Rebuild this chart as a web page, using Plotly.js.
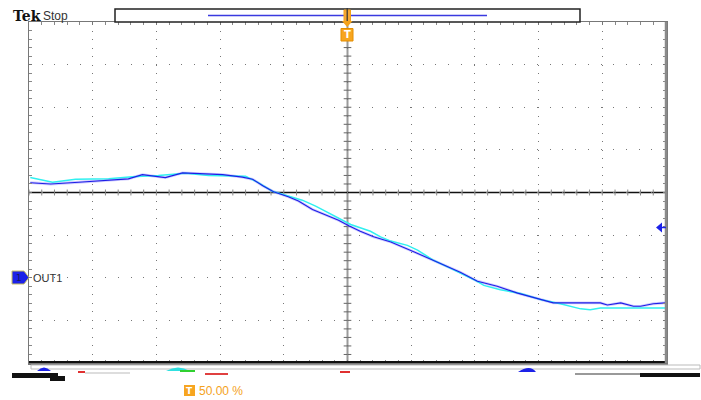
<!DOCTYPE html>
<html><head><meta charset="utf-8">
<script src="https://cdn.plot.ly/plotly-3.0.1.min.js"></script>
<style>html,body{margin:0;padding:0;background:#fff}#chart{width:701px;height:400px}</style>
</head><body><div id="chart"></div>
<script>
// time in divisions (-5..5), amplitude in divisions (-4..4)
const blueT = [-4.98,-4.66,-4.22,-3.80,-3.44,-3.22,-2.97,-2.86,-2.59,-2.34,-1.96,-1.65,-1.49,-1.33,-1.16,-0.93,-0.77,-0.55,-0.35,-0.14,0.02,0.20,0.41,0.68,1.04,1.41,1.77,2.04,2.35,2.67,3.03,3.23,3.97,4.08,4.29,4.49,4.60,4.80,4.99];
const blueV = [0.23,0.20,0.24,0.29,0.32,0.42,0.38,0.35,0.46,0.44,0.42,0.36,0.31,0.16,0.02,-0.10,-0.20,-0.40,-0.52,-0.65,-0.78,-0.91,-1.04,-1.16,-1.39,-1.64,-1.87,-2.08,-2.20,-2.36,-2.51,-2.59,-2.59,-2.64,-2.59,-2.67,-2.67,-2.61,-2.59];
const cyanT = [-4.98,-4.63,-4.27,-3.75,-3.38,-2.97,-2.54,-2.18,-1.60,-1.40,-1.18,-0.97,-0.71,-0.50,-0.19,0.02,0.05,0.36,0.52,0.68,0.94,1.10,1.35,1.66,1.98,2.14,2.40,2.72,3.03,3.34,3.66,3.81,3.97,4.99];
const cyanV = [0.35,0.24,0.31,0.32,0.37,0.40,0.45,0.40,0.38,0.23,0.03,-0.06,-0.18,-0.32,-0.56,-0.73,-0.75,-0.91,-1.04,-1.14,-1.24,-1.35,-1.59,-1.81,-2.04,-2.18,-2.28,-2.37,-2.51,-2.61,-2.73,-2.75,-2.71,-2.71];
const ch1Label = "OUT1";
const trigLabel = "50.00 %";

const L=29,R=666,T=22,B=363;
const px = x => (x-L)/(R-L);
const py = y => (B-y)/(B-T);

const traces = [
  {x:blueT,y:blueV,mode:'lines',line:{color:'rgba(140,130,255,0.4)',width:2.8},hoverinfo:'skip'},
  {x:cyanT,y:cyanV,mode:'lines',line:{color:'#30f0f0',width:1.5},hoverinfo:'skip'},
  {x:blueT,y:blueV,mode:'lines',line:{color:'#1e1ee6',width:1.1},hoverinfo:'skip'}
];

const shapes = [];
// center crosshair
shapes.push({type:'line',xref:'x',yref:'paper',x0:0,x1:0,y0:0,y1:1,line:{color:'#9a9a9a',width:2},layer:'below'});
shapes.push({type:'line',xref:'paper',yref:'y',x0:0,x1:1,y0:0,y1:0,line:{color:'#111',width:1.3},layer:'below'});
for(let i=-25;i<=25;i++){
  if(i===0) continue;
  shapes.push({type:'line',xref:'x',yref:'y',x0:i*0.2,x1:i*0.2,y0:-0.07,y1:0.07,line:{color:'#888',width:1},layer:'below'});
}
for(let i=-20;i<=20;i++){
  if(i===0) continue;
  shapes.push({type:'line',xref:'x',yref:'y',x0:-0.06,x1:0.06,y0:i*0.2,y1:i*0.2,line:{color:'#666',width:1},layer:'below'});
}
// bottom black border
shapes.push({type:'line',xref:'paper',yref:'paper',x0:px(29),x1:px(666),y0:py(362),y1:py(362),line:{color:'#111',width:2}});
// right thick grey border
shapes.push({type:'line',xref:'paper',yref:'paper',x0:px(666),x1:px(666),y0:py(363),y1:py(22),line:{color:'#8a8a8a',width:2.5}});
// top record-view box
shapes.push({type:'rect',xref:'paper',yref:'paper',x0:px(115),x1:px(580),y0:py(22),y1:py(9),line:{color:'#222',width:1.5},fillcolor:'#fff'});
shapes.push({type:'line',xref:'paper',yref:'paper',x0:px(208),x1:px(487),y0:py(15.5),y1:py(15.5),line:{color:'#3a3ae0',width:1.5}});
// trigger position marker
shapes.push({type:'rect',xref:'paper',yref:'paper',x0:px(344),x1:px(350.5),y0:py(22),y1:py(10),line:{color:'#f4a21c',width:1},fillcolor:'#f7a833'});
shapes.push({type:'line',xref:'paper',yref:'paper',x0:px(347.2),x1:px(347.2),y0:py(24),y1:py(8),line:{color:'#333',width:1.2}});
shapes.push({type:'path',xref:'paper',yref:'paper',path:`M ${px(342)} ${py(21)} L ${px(352.5)} ${py(21)} L ${px(347.2)} ${py(27)} Z`,line:{width:0},fillcolor:'#f4a21c'});
shapes.push({type:'rect',xref:'paper',yref:'paper',x0:px(341),x1:px(353),y0:py(41),y1:py(28.5),line:{color:'#e58e00',width:1},fillcolor:'#f7a520'});
// OUT1 ground marker
shapes.push({type:'path',xref:'paper',yref:'paper',path:`M ${px(12)} ${py(271)} L ${px(24)} ${py(271)} L ${px(29)} ${py(277.5)} L ${px(24)} ${py(284)} L ${px(12)} ${py(284)} Z`,line:{color:'#c8c060',width:1},fillcolor:'#1c22e8'});
// right-side arrow
shapes.push({type:'path',xref:'paper',yref:'paper',path:`M ${px(656)} ${py(227.5)} L ${px(662)} ${py(222.5)} L ${px(662)} ${py(232.5)} Z`,line:{width:0},fillcolor:'#1c22e8'});
shapes.push({type:'line',xref:'paper',yref:'paper',x0:px(660),x1:px(666),y0:py(227.5),y1:py(227.5),line:{color:'#1c22e8',width:1.5}});
// bottom status-bar remnants
shapes.push({type:'rect',xref:'paper',yref:'paper',x0:px(31),x1:px(700),y0:py(369),y1:py(365),line:{color:'#bbb',width:1},fillcolor:'rgba(0,0,0,0)'});
shapes.push({type:'rect',xref:'paper',yref:'paper',x0:px(12),x1:px(58),y0:py(378),y1:py(373),line:{width:0},fillcolor:'#111'});
shapes.push({type:'rect',xref:'paper',yref:'paper',x0:px(50),x1:px(65),y0:py(381),y1:py(376),line:{width:0},fillcolor:'#111'});
shapes.push({type:'path',xref:'paper',yref:'paper',path:`M ${px(37)} ${py(371)} Q ${px(44)} ${py(364)} ${px(51)} ${py(371)} Z`,line:{width:0},fillcolor:'#1c22e8'});
shapes.push({type:'path',xref:'paper',yref:'paper',path:`M ${px(166)} ${py(371)} Q ${px(178)} ${py(364)} ${px(190)} ${py(371)} Z`,line:{width:0},fillcolor:'#30e0e0'});
shapes.push({type:'path',xref:'paper',yref:'paper',path:`M ${px(518)} ${py(372)} Q ${px(530)} ${py(364)} ${px(536)} ${py(372)} Z`,line:{width:0},fillcolor:'#1c22e8'});
shapes.push({type:'rect',xref:'paper',yref:'paper',x0:px(640),x1:px(700),y0:py(377),y1:py(373),line:{width:0},fillcolor:'#111'});
shapes.push({type:'rect',xref:'paper',yref:'paper',x0:px(85),x1:px(130),y0:py(374),y1:py(372),line:{width:0},fillcolor:'#ddd'});
shapes.push({type:'rect',xref:'paper',yref:'paper',x0:px(78),x1:px(85),y0:py(373),y1:py(371),line:{width:0},fillcolor:'#e03030'});
shapes.push({type:'rect',xref:'paper',yref:'paper',x0:px(180),x1:px(195),y0:py(372),y1:py(370),line:{width:0},fillcolor:'#30d030'});
shapes.push({type:'rect',xref:'paper',yref:'paper',x0:px(205),x1:px(228),y0:py(375),y1:py(373),line:{width:0},fillcolor:'#e04040'});
shapes.push({type:'rect',xref:'paper',yref:'paper',x0:px(340),x1:px(350),y0:py(373),y1:py(371),line:{width:0},fillcolor:'#e03030'});
shapes.push({type:'rect',xref:'paper',yref:'paper',x0:px(575),x1:px(640),y0:py(375),y1:py(373),line:{width:0},fillcolor:'#999'});
shapes.push({type:'rect',xref:'paper',yref:'paper',x0:px(184),x1:px(195),y0:py(396),y1:py(385),line:{width:0},fillcolor:'#f7a520'});

const ann = [
  {xref:'paper',yref:'paper',x:px(11),y:py(16),xanchor:'left',yanchor:'middle',text:'<b>Tek</b>',showarrow:false,font:{family:'DejaVu Serif',size:14,color:'#111'}},
  {xref:'paper',yref:'paper',x:px(41),y:py(16),xanchor:'left',yanchor:'middle',text:'Stop',showarrow:false,font:{family:'Liberation Sans',size:12,color:'#333'}},
  {xref:'paper',yref:'paper',x:px(347),y:py(35),xanchor:'center',yanchor:'middle',text:'<b>T</b>',showarrow:false,font:{family:'DejaVu Sans',size:10,color:'#fff'}},
  {xref:'paper',yref:'paper',x:px(19),y:py(277.5),xanchor:'center',yanchor:'middle',text:'1',showarrow:false,font:{family:'DejaVu Sans',size:9,color:'#1a1a60'}},
  {xref:'paper',yref:'paper',x:px(31),y:py(278),xanchor:'left',yanchor:'middle',text:ch1Label,showarrow:false,font:{family:'Liberation Sans',size:11,color:'#333'}},
  {xref:'paper',yref:'paper',x:px(189.5),y:py(390.5),xanchor:'center',yanchor:'middle',text:'<b>T</b>',showarrow:false,font:{family:'DejaVu Sans',size:9,color:'#fff'}},
  {xref:'paper',yref:'paper',x:px(197),y:py(391),xanchor:'left',yanchor:'middle',text:trigLabel,showarrow:false,font:{family:'Liberation Sans',size:12,color:'#f4a21c'}}
];

const layout = {
  width:701,height:400,
  margin:{l:L,r:701-R,t:T,b:400-B,pad:0},
  paper_bgcolor:'#fff',plot_bgcolor:'#fff',
  showlegend:false,
  xaxis:{range:[-5,5],dtick:1,tick0:0,showgrid:true,gridcolor:'#777',griddash:'1px,7.5px',gridwidth:1,
    zeroline:false,showticklabels:false,ticks:'inside',ticklen:3,tickcolor:'#777',
    minor:{dtick:0.2,ticks:'inside',ticklen:3,tickcolor:'#888',showgrid:false},
    showline:true,linecolor:'#777',linewidth:1.5,mirror:'allticks',fixedrange:true},
  yaxis:{range:[-4,4],dtick:1,tick0:0,showgrid:true,gridcolor:'#777',griddash:'1px,11.7px',gridwidth:1,
    zeroline:false,showticklabels:false,ticks:'inside',ticklen:3,tickcolor:'#777',
    minor:{dtick:0.2,ticks:'inside',ticklen:3,tickcolor:'#888',showgrid:false},
    showline:true,linecolor:'#777',linewidth:1.5,mirror:'allticks',fixedrange:true},
  shapes:shapes,annotations:ann
};
Plotly.newPlot('chart',traces,layout,{staticPlot:true,displayModeBar:false});
</script></body></html>
